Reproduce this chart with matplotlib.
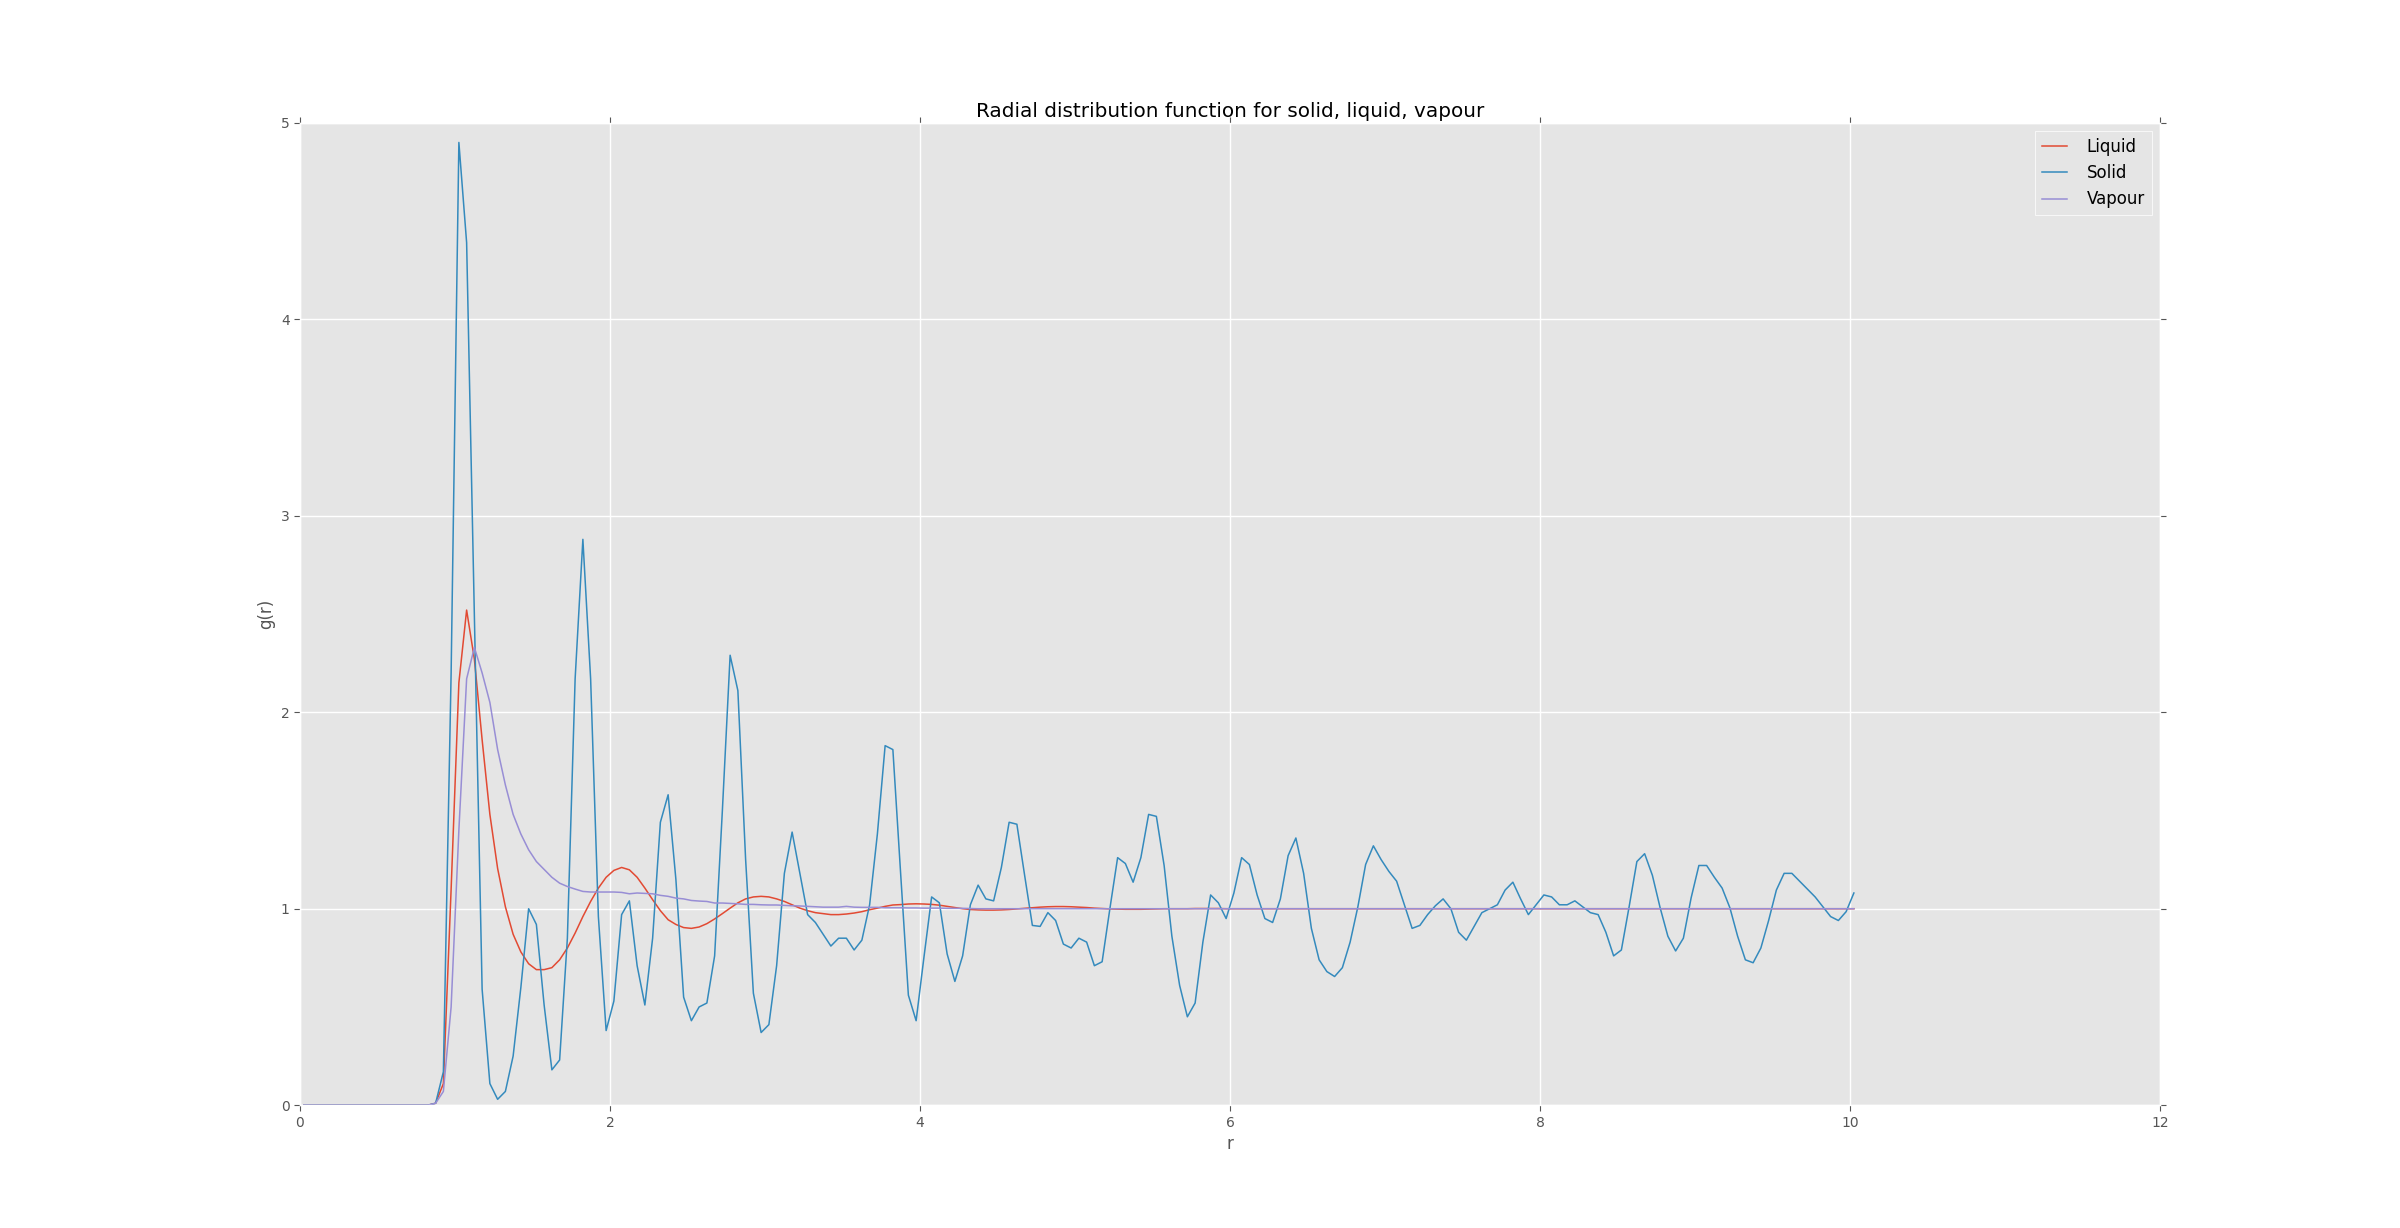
import numpy as np
import matplotlib
matplotlib.use('Agg')
import matplotlib.pyplot as plt

plt.style.use('ggplot')

# bin centres of the histogram, dr = 0.05
r = np.arange(201) * 0.05 + 0.025

# g(r), one value per bin
liquid = [
    0, 0, 0, 0, 0, 0, 0, 0, 0, 0,
    0, 0, 0, 0, 0, 0, 0, 0.01, 0.11, 1.1,
    2.15, 2.52, 2.27, 1.86, 1.48, 1.205, 1.01, 0.87, 0.78, 0.72,
    0.69, 0.69, 0.70, 0.74, 0.80, 0.876, 0.96, 1.037, 1.105, 1.16,
    1.195, 1.21, 1.198, 1.16, 1.105, 1.046, 0.99, 0.944, 0.92, 0.904,
    0.90, 0.907, 0.924, 0.948, 0.975, 1.003, 1.03, 1.05, 1.06, 1.063,
    1.06, 1.05, 1.037, 1.02, 1.003, 0.99, 0.98, 0.975, 0.97, 0.97,
    0.973, 0.978, 0.985, 0.995, 1.003, 1.012, 1.019, 1.021, 1.024, 1.025,
    1.024, 1.022, 1.018, 1.012, 1.006, 1.0, 0.996, 0.994, 0.993, 0.993,
    0.994, 0.996, 0.999, 1.002, 1.005, 1.008, 1.010, 1.011, 1.011, 1.010,
    1.008, 1.006, 1.003, 1.001, 0.999, 0.998, 0.997, 0.997, 0.997, 0.998,
    0.999, 1.0, 1.0, 1.0, 1.0, 1.001, 1.001, 1.001, 1.001, 1.0,
    1.0, 1.0, 1.0, 1.0, 1.0, 1.0, 1.0, 1.0, 1.0, 1.0,
    1.0, 1.0, 1.0, 1.0, 1.0, 1.0, 1.0, 1.0, 1.0, 1.0,
    1.0, 1.0, 1.0, 1.0, 1.0, 1.0, 1.0, 1.0, 1.0, 1.0,
    1.0, 1.0, 1.0, 1.0, 1.0, 1.0, 1.0, 1.0, 1.0, 1.0,
    1.0, 1.0, 1.0, 1.0, 1.0, 1.0, 1.0, 1.0, 1.0, 1.0,
    1.0, 1.0, 1.0, 1.0, 1.0, 1.0, 1.0, 1.0, 1.0, 1.0,
    1.0, 1.0, 1.0, 1.0, 1.0, 1.0, 1.0, 1.0, 1.0, 1.0,
    1.0, 1.0, 1.0, 1.0, 1.0, 1.0, 1.0, 1.0, 1.0, 1.0,
    1.0,
]

solid = [
    0, 0, 0, 0, 0, 0, 0, 0, 0, 0,
    0, 0, 0, 0, 0, 0, 0, 0.01, 0.17, 2.2,
    4.90, 4.39, 2.5, 0.59, 0.11, 0.03, 0.07, 0.25, 0.60, 1.00,
    0.92, 0.51, 0.18, 0.23, 0.85, 2.17, 2.88, 2.17, 0.96, 0.38,
    0.53, 0.97, 1.04, 0.71, 0.51, 0.85, 1.44, 1.58, 1.15, 0.55,
    0.43, 0.50, 0.52, 0.76, 1.5, 2.29, 2.11, 1.25, 0.57, 0.37,
    0.41, 0.71, 1.18, 1.39, 1.18, 0.97, 0.93, 0.87, 0.81, 0.85,
    0.85, 0.79, 0.84, 1.02, 1.38, 1.83, 1.81, 1.18, 0.56, 0.43,
    0.75, 1.06, 1.03, 0.77, 0.63, 0.76, 1.02, 1.12, 1.05, 1.04,
    1.21, 1.44, 1.43, 1.17, 0.915, 0.91, 0.98, 0.94, 0.82, 0.80,
    0.85, 0.83, 0.71, 0.73, 1.0, 1.26, 1.23, 1.135, 1.26, 1.48,
    1.47, 1.22, 0.86, 0.61, 0.45, 0.52, 0.83, 1.07, 1.03, 0.95,
    1.08, 1.26, 1.225, 1.07, 0.95, 0.93, 1.05, 1.27, 1.36, 1.18,
    0.90, 0.74, 0.68, 0.655, 0.70, 0.83, 1.01, 1.225, 1.32, 1.25,
    1.19, 1.14, 1.02, 0.90, 0.915, 0.97, 1.015, 1.05, 1.0, 0.88,
    0.84, 0.91, 0.98, 1.0, 1.02, 1.095, 1.135, 1.05, 0.97, 1.02,
    1.07, 1.06, 1.02, 1.02, 1.04, 1.01, 0.98, 0.97, 0.88, 0.76,
    0.79, 1.01, 1.24, 1.28, 1.17, 1.005, 0.86, 0.785, 0.85, 1.055,
    1.22, 1.22, 1.16, 1.105, 1.005, 0.86, 0.74, 0.725, 0.80, 0.94,
    1.095, 1.18, 1.18, 1.14, 1.10, 1.06, 1.01, 0.96, 0.94, 0.985,
    1.08,
]

vapour = [
    0, 0, 0, 0, 0, 0, 0, 0, 0, 0,
    0, 0, 0, 0, 0, 0, 0, 0.01, 0.07, 0.5,
    1.4, 2.17, 2.33, 2.20, 2.05, 1.81, 1.63, 1.48, 1.38, 1.30,
    1.24, 1.20, 1.16, 1.13, 1.113, 1.10, 1.088, 1.085, 1.085, 1.085,
    1.085, 1.083, 1.076, 1.08, 1.078, 1.076, 1.068, 1.063, 1.054, 1.05,
    1.042, 1.039, 1.037, 1.029, 1.029, 1.027, 1.025, 1.022, 1.022, 1.02,
    1.019, 1.019, 1.017, 1.015, 1.014, 1.012, 1.01, 1.008, 1.008, 1.008,
    1.012, 1.008, 1.007, 1.007, 1.007, 1.005, 1.005, 1.005, 1.004, 1.004,
    1.003, 1.003, 1.003, 1.002, 1.002, 1.002, 1.001, 1.0, 1.0, 1.0,
    1.0, 1.0, 1.0, 1.0, 1.0, 1.0, 1.0, 1.0, 1.0, 1.0,
    1.0, 1.0, 1.0, 1.0, 1.0, 1.0, 1.0, 1.0, 1.0, 1.0,
    1.0, 1.0, 1.0, 1.0, 1.0, 1.0, 1.0, 1.0, 1.0, 1.0,
    1.0, 1.0, 1.0, 1.0, 1.0, 1.0, 1.0, 1.0, 1.0, 1.0,
    1.0, 1.0, 1.0, 1.0, 1.0, 1.0, 1.0, 1.0, 1.0, 1.0,
    1.0, 1.0, 1.0, 1.0, 1.0, 1.0, 1.0, 1.0, 1.0, 1.0,
    1.0, 1.0, 1.0, 1.0, 1.0, 1.0, 1.0, 1.0, 1.0, 1.0,
    1.0, 1.0, 1.0, 1.0, 1.0, 1.0, 1.0, 1.0, 1.0, 1.0,
    1.0, 1.0, 1.0, 1.0, 1.0, 1.0, 1.0, 1.0, 1.0, 1.0,
    1.0, 1.0, 1.0, 1.0, 1.0, 1.0, 1.0, 1.0, 1.0, 1.0,
    1.0, 1.0, 1.0, 1.0, 1.0, 1.0, 1.0, 1.0, 1.0, 1.0,
    1.0,
]

fig = plt.figure(figsize=(24, 12.28), dpi=100)
fig.subplots_adjust(left=0.125, right=0.9, bottom=0.1, top=0.9)
ax = fig.add_subplot(111)

ax.plot(r, liquid, color='#E24A33', lw=1.1, label='Liquid')
ax.plot(r, solid, color='#348ABD', lw=1.1, label='Solid')
ax.plot(r, vapour, color='#988ED5', lw=1.1, label='Vapour')

ax.set_xlim(0, 12)
ax.set_ylim(0, 5)
ax.set_xticks(range(0, 13, 2))
ax.set_yticks(range(0, 6))
ax.tick_params(direction='out', top=True, right=True, length=4,
               color='#555555', labelcolor='#555555', labelsize=10)
ax.grid(True, color='white', lw=1.0)

ax.set_title('Radial distribution function for solid, liquid, vapour',
             fontsize=14.4, pad=4)
ax.set_xlabel('r', fontsize=12, color='#555555')
ax.set_ylabel('g(r)', fontsize=12, color='#555555')

leg = ax.legend(loc='upper right', fontsize=12, fancybox=False,
                handlelength=1.5, handletextpad=1.2, framealpha=1)
leg.get_frame().set_facecolor('#E5E5E5')
leg.get_frame().set_edgecolor('white')

fig.savefig('out.png', dpi=100)
